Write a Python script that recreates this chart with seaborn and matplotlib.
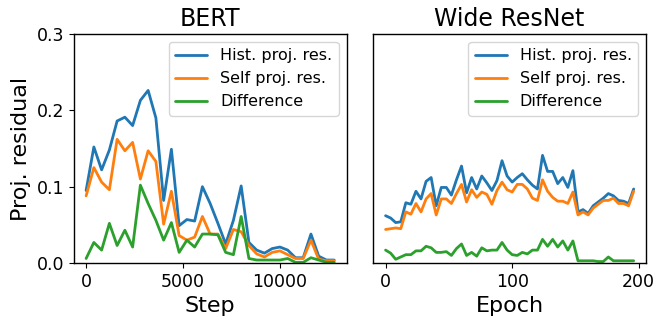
#!/usr/bin/env python3
from matplotlib import pyplot as plt
import numpy as np
import pandas
import seaborn

# BERT, every 400 steps
bert_steps = list(range(0, 12801, 400))
bert_hist = [0.095, 0.152, 0.122, 0.148, 0.186, 0.191, 0.180, 0.213, 0.226, 0.190,
             0.082, 0.149, 0.049, 0.057, 0.055, 0.100, 0.078, 0.052, 0.025, 0.056,
             0.101, 0.027, 0.017, 0.013, 0.019, 0.021, 0.017, 0.007, 0.007, 0.038,
             0.009, 0.004, 0.004]
bert_self = [0.088, 0.125, 0.106, 0.096, 0.162, 0.147, 0.158, 0.110, 0.147, 0.133,
             0.051, 0.094, 0.036, 0.030, 0.034, 0.061, 0.038, 0.038, 0.019, 0.044,
             0.041, 0.023, 0.012, 0.008, 0.014, 0.016, 0.011, 0.006, 0.006, 0.030,
             0.005, 0.003, 0.003]
bert_diff = [0.006, 0.027, 0.017, 0.052, 0.023, 0.043, 0.021, 0.102, 0.078, 0.056,
             0.030, 0.053, 0.014, 0.030, 0.021, 0.038, 0.038, 0.037, 0.014, 0.011,
             0.061, 0.006, 0.004, 0.004, 0.004, 0.004, 0.006, 0.001, 0.001, 0.007,
             0.004, 0.001, 0.001]

# Wide ResNet, every 4 epochs
wrn_epochs = list(range(0, 197, 4))
wrn_hist = [0.062, 0.059, 0.053, 0.054, 0.079, 0.077, 0.094, 0.084, 0.107, 0.112,
            0.075, 0.099, 0.099, 0.089, 0.109, 0.127, 0.092, 0.112, 0.097, 0.114,
            0.105, 0.095, 0.108, 0.134, 0.114, 0.106, 0.112, 0.117, 0.109, 0.102,
            0.097, 0.141, 0.120, 0.120, 0.104, 0.112, 0.099, 0.121, 0.067, 0.070,
            0.065, 0.075, 0.080, 0.085, 0.091, 0.088, 0.082, 0.081, 0.078, 0.097]
wrn_self = [0.044, 0.045, 0.046, 0.045, 0.067, 0.064, 0.078, 0.067, 0.084, 0.091,
            0.063, 0.084, 0.084, 0.078, 0.091, 0.103, 0.080, 0.096, 0.086, 0.093,
            0.090, 0.077, 0.095, 0.106, 0.096, 0.093, 0.103, 0.103, 0.097, 0.085,
            0.082, 0.109, 0.094, 0.086, 0.081, 0.081, 0.078, 0.093, 0.063, 0.067,
            0.063, 0.072, 0.077, 0.082, 0.082, 0.085, 0.078, 0.078, 0.075, 0.094]
wrn_diff = [0.017, 0.013, 0.005, 0.008, 0.011, 0.011, 0.016, 0.016, 0.022, 0.020,
            0.014, 0.014, 0.015, 0.010, 0.019, 0.025, 0.010, 0.014, 0.009, 0.020,
            0.016, 0.017, 0.017, 0.027, 0.017, 0.011, 0.010, 0.014, 0.012, 0.017,
            0.017, 0.031, 0.022, 0.031, 0.021, 0.029, 0.017, 0.029, 0.003, 0.003,
            0.003, 0.003, 0.002, 0.002, 0.008, 0.003, 0.003, 0.003, 0.003, 0.003]

labels = ['Hist. proj. res.', 'Self proj. res.', 'Difference']
colors = ['#1f77b4', '#ff7f0e', '#2ca02c']


def long_frame(x, series, xname):
	rows = []
	for label, ys in zip(labels, series):
		for xv, yv in zip(x, ys):
			rows.append((xv, yv, label))
	return pandas.DataFrame(rows, columns=[xname, 'value', 'series'])


seaborn.set_style('ticks')
plt.rcParams['font.family'] = ['DejaVu Sans']
plt.rcParams['text.color'] = 'black'
plt.rcParams['axes.labelcolor'] = 'black'
plt.rcParams['xtick.color'] = 'black'
plt.rcParams['ytick.color'] = 'black'

fig = plt.figure(figsize=(6.64, 3.26), dpi=100)
ax1 = fig.add_axes([0.111, 0.193, 0.411, 0.703])
ax2 = fig.add_axes([0.562, 0.193, 0.411, 0.703], sharey=ax1)

df1 = long_frame(bert_steps, [bert_hist, bert_self, bert_diff], 'Step')
df2 = long_frame(wrn_epochs, [wrn_hist, wrn_self, wrn_diff], 'Epoch')

seaborn.lineplot(df1, x='Step', y='value', hue='series', palette=colors, linewidth=2, ax=ax1)
seaborn.lineplot(df2, x='Epoch', y='value', hue='series', palette=colors, linewidth=2, ax=ax2)

for ax, title in ((ax1, 'BERT'), (ax2, 'Wide ResNet')):
	ax.set_title(title, fontsize=17)
	ax.tick_params(labelsize=12.5)
	ax.xaxis.label.set_size(16)
	leg = ax.legend(title=None, fontsize=11.5, loc='upper right', framealpha=0.8)
	leg.get_frame().set_edgecolor('#cccccc')
	for s in ax.spines.values():
		s.set_color('black')
		s.set_linewidth(1)

ax1.set_ylim(0, 0.3)
ax1.set_yticks([0.0, 0.1, 0.2, 0.3])
ax1.set_ylabel('Proj. residual', fontsize=16)
ax1.set_xticks([0, 5000, 10000])
ax2.set_xticks([0, 100, 200])
ax2.set_ylabel('')
ax2.tick_params(axis='y', left=False, labelleft=False)

fig.savefig('out.png', dpi=100)
